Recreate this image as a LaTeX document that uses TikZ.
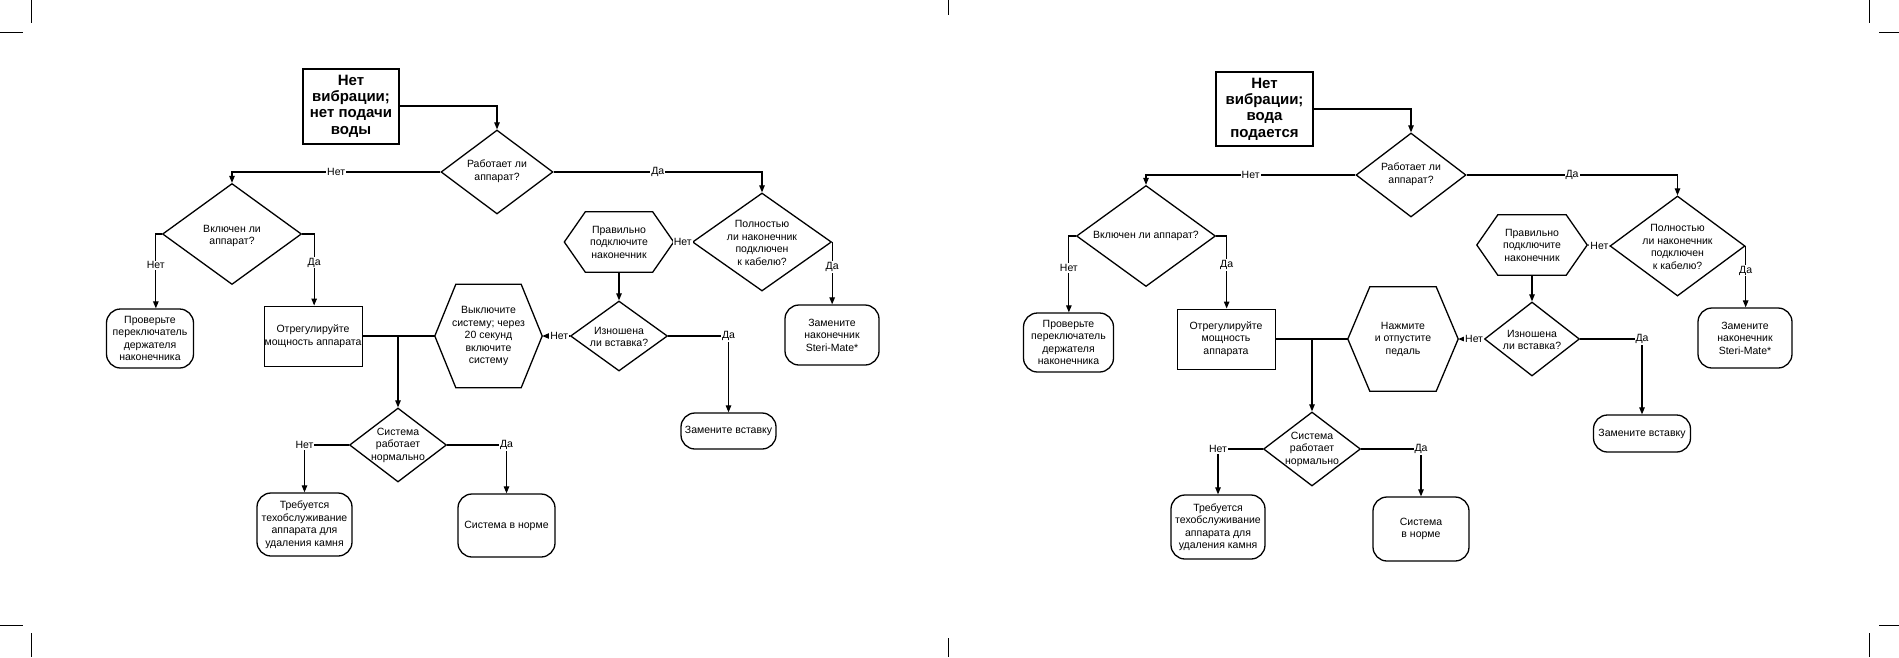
\documentclass[tikz,border=0pt]{standalone}
\usepackage{fontspec}
\setmainfont{Liberation Sans}
\usetikzlibrary{shapes.geometric,arrows.meta}
\newcommand\myfs{\fontsize{10.5pt}{12.5pt}\selectfont}
\newcommand\myttl{\fontsize{15pt}{16.3pt}\selectfont\bfseries}
\newcommand\myhex[2]{\draw[shp] ([xshift=#2]#1.north west) -- ([xshift=-#2]#1.north east) -- (#1.east) -- ([xshift=-#2]#1.south east) -- ([xshift=#2]#1.south west) -- (#1.west) -- cycle;}
\tikzset{
 shp/.style={draw=black, line width=1.3pt},
 dia/.style={shp, shape=diamond, inner sep=0pt},
 txt/.style={align=center, font=\myfs, inner sep=0pt},
 rbox/.style={shp, rectangle, rounded corners=14pt, align=center, font=\myfs, inner sep=0pt},
 rect/.style={draw=black, line width=1pt, rectangle, align=center, font=\myfs, inner sep=0pt},
 startbox/.style={draw=black, line width=2pt, rectangle, align=center, font=\myttl, inner sep=0pt},
 hexbox/.style={rectangle, align=center, font=\myfs, inner sep=0pt},
 conn/.style={line width=1.1pt, -{Triangle[length=7pt,width=5.5pt]}},
 plain/.style={line width=1.6pt},
 lbl/.style={fill=white, font=\myfs, inner sep=1pt},
 crop/.style={line width=1pt}
}
\begin{document}
\begin{tikzpicture}[x=1pt,y=-1pt]
\useasboundingbox (0,0) rectangle (1899,657);
% crop marks
\draw[crop] (31,0) -- (31,23);
\draw[crop] (0,32) -- (23,32);
\draw[crop] (948,0) -- (948,15);
\draw[crop] (1869,0) -- (1869,23);
\draw[crop] (1879,32) -- (1899,32);
\draw[crop] (0,625) -- (23,625);
\draw[crop] (31,633) -- (31,657);
\draw[crop] (948,638) -- (948,657);
\draw[crop] (1879,625) -- (1899,625);
\draw[crop] (1869,633) -- (1869,657);

% ================= LEFT CHART =================
\node[startbox, minimum width=96, minimum height=75] (Ls) at (351,106) {Нет\\вибрации;\\нет подачи\\воды};
\node[dia, minimum width=112, minimum height=84] (Lq1) at (497,172) {};
\node[txt] (Lq1t) at (497,171) {Работает ли\\аппарат?};
\node[dia, minimum width=139, minimum height=101] (Lq2) at (232,234) {};
\node[txt] (Lq2t) at (232,236) {Включен ли\\аппарат?};
\node[dia, minimum width=139, minimum height=98] (Lq3) at (762,242) {};
\node[txt] (Lq3t) at (762,243) {Полностью\\ли наконечник\\подключен\\к кабелю?};
\node[hexbox, minimum width=109, minimum height=60] (Lh1) at (619,242) {Правильно\\подключите\\наконечник};
\myhex{Lh1}{21pt}
\node[dia, minimum width=97, minimum height=70] (Lq4) at (619,336) {};
\node[txt] (Lq4t) at (619,337) {Изношена\\ли вставка?};
\node[hexbox, minimum width=107, minimum height=103] (Lh2) at (488.5,336) {Выключите\\систему; через\\20 секунд\\включите\\систему};
\myhex{Lh2}{21pt}
\node[rbox, minimum width=87, minimum height=59] (Lb1) at (150,338.5) {Проверьте\\переключатель\\держателя\\наконечника};
\node[rect, minimum width=98, minimum height=60] (Lr) at (313,336) {Отрегулируйте\\мощность аппарата};
\node[rbox, minimum width=94, minimum height=60] (Lb2) at (832,335) {Замените\\наконечник\\Steri-Mate*};
\node[rbox, minimum width=95, minimum height=36] (Lb3) at (728.5,431) {Замените вставку};
\node[dia, minimum width=97, minimum height=74] (Lq5) at (398,445) {};
\node[txt] (Lq5t) at (398,445) {Система\\работает\\нормально};
\node[rbox, minimum width=95, minimum height=63] (Lb4) at (304.5,524.5) {Требуется\\техобслуживание\\аппарата для\\удаления камня};
\node[rbox, minimum width=97, minimum height=63] (Lb5) at (506.5,525.5) {Система в норме};

\draw[conn] (Ls.east) -| (Lq1.north);
\draw[conn] (Lq1.west) -- node[lbl]{Нет} (Lq1.west -| Lq2.north) -- (Lq2.north);
\draw[conn] (Lq1.east) -- node[lbl]{Да} (Lq1.east -| Lq3.north) -- (Lq3.north);
\draw[conn] (Lq2.west) -- ++(-6,0) coordinate (Lc1) -- node[lbl,pos=0.42]{Нет} (Lc1 |- Lb1.north);
\draw[conn] (Lq2.east) -- ++(12,0) coordinate (Lc2) -- node[lbl,pos=0.4]{Да} (Lc2 |- Lr.north);
\draw[conn] (Lq3.west) -- node[lbl]{Нет} (Lh1.east);
\draw[conn] (Lq3.east) -- node[lbl,pos=0.4]{Да} (Lq3.east |- Lb2.north);
\draw[conn] (Lh1.south) -- (Lq4.north);
\draw[conn] (Lq4.west) -- node[lbl,pos=0.38]{Нет} (Lh2.east);
\draw[conn] (Lq4.east) -- (Lq4.east -| Lb3.north) node[lbl]{Да} -- (Lb3.north);
\draw[plain] (Lr.east) -- (Lh2.west);
\draw[conn] (Lq5.north |- Lr.east) -- (Lq5.north);
\draw[conn] (Lq5.west) -- (Lq5.west -| Lb4.north) node[lbl]{Нет} -- (Lb4.north);
\draw[conn] (Lq5.east) -- (Lq5.east -| Lb5.north) node[lbl]{Да} -- (Lb5.north);

% ================= RIGHT CHART =================
\node[startbox, minimum width=97, minimum height=74] (Rs) at (1264.5,109) {Нет\\вибрации;\\вода\\подается};
\node[dia, minimum width=110, minimum height=84] (Rq1) at (1411,175) {};
\node[txt] (Rq1t) at (1411,174) {Работает ли\\аппарат?};
\node[dia, minimum width=139, minimum height=101] (Rq2) at (1146,236) {};
\node[txt] (Rq2t) at (1146,236) {Включен ли аппарат?};
\node[dia, minimum width=135, minimum height=100] (Rq3) at (1677.5,246) {};
\node[txt] (Rq3t) at (1677.5,247) {Полностью\\ли наконечник\\подключен\\к кабелю?};
\node[hexbox, minimum width=110, minimum height=60] (Rh1) at (1532,245) {Правильно\\подключите\\наконечник};
\myhex{Rh1}{21pt}
\node[dia, minimum width=95, minimum height=74] (Rq4) at (1532,339) {};
\node[txt] (Rq4t) at (1532,340) {Изношена\\ли вставка?};
\node[hexbox, minimum width=110, minimum height=104] (Rh2) at (1403,339) {Нажмите\\и отпустите\\педаль};
\myhex{Rh2}{22pt}
\node[rbox, minimum width=90, minimum height=59] (Rb1) at (1068.5,342.5) {Проверьте\\переключатель\\держателя\\наконечника};
\node[rect, minimum width=98, minimum height=60] (Rr) at (1226,339) {Отрегулируйте\\мощность\\аппарата};
\node[rbox, minimum width=94, minimum height=60] (Rb2) at (1745,338) {Замените\\наконечник\\Steri-Mate*};
\node[rbox, minimum width=97, minimum height=37] (Rb3) at (1642,433.5) {Замените вставку};
\node[dia, minimum width=97, minimum height=74] (Rq5) at (1312,449) {};
\node[txt] (Rq5t) at (1312,449) {Система\\работает\\нормально};
\node[rbox, minimum width=94, minimum height=64] (Rb4) at (1218,527) {Требуется\\техобслуживание\\аппарата для\\удаления камня};
\node[rbox, minimum width=96, minimum height=64] (Rb5) at (1421,529) {Система\\в норме};

\draw[conn] (Rs.east) -| (Rq1.north);
\draw[conn] (Rq1.west) -- node[lbl]{Нет} (Rq1.west -| Rq2.north) -- (Rq2.north);
\draw[conn] (Rq1.east) -- node[lbl]{Да} (Rq1.east -| Rq3.north) -- (Rq3.north);
\draw[conn] (Rq2.west) -- ++(-7,0) coordinate (Rc1) -- node[lbl,pos=0.42]{Нет} (Rc1 |- Rb1.north);
\draw[conn] (Rq2.east) -- ++(10.5,0) coordinate (Rc2) -- node[lbl,pos=0.4]{Да} (Rc2 |- Rr.north);
\draw[conn] (Rq3.west) -- node[lbl,pos=0.45]{Нет} (Rh1.east);
\draw[conn] (Rq3.east) -- node[lbl,pos=0.4]{Да} (Rq3.east |- Rb2.north);
\draw[conn] (Rh1.south) -- (Rq4.north);
\draw[conn] (Rq4.west) -- node[lbl,pos=0.38]{Нет} (Rh2.east);
\draw[conn] (Rq4.east) -- (Rq4.east -| Rb3.north) node[lbl]{Да} -- (Rb3.north);
\draw[plain] (Rr.east) -- (Rh2.west);
\draw[conn] (Rq5.north |- Rr.east) -- (Rq5.north);
\draw[conn] (Rq5.west) -- (Rq5.west -| Rb4.north) node[lbl]{Нет} -- (Rb4.north);
\draw[conn] (Rq5.east) -- (Rq5.east -| Rb5.north) node[lbl]{Да} -- (Rb5.north);
\end{tikzpicture}
\end{document}
